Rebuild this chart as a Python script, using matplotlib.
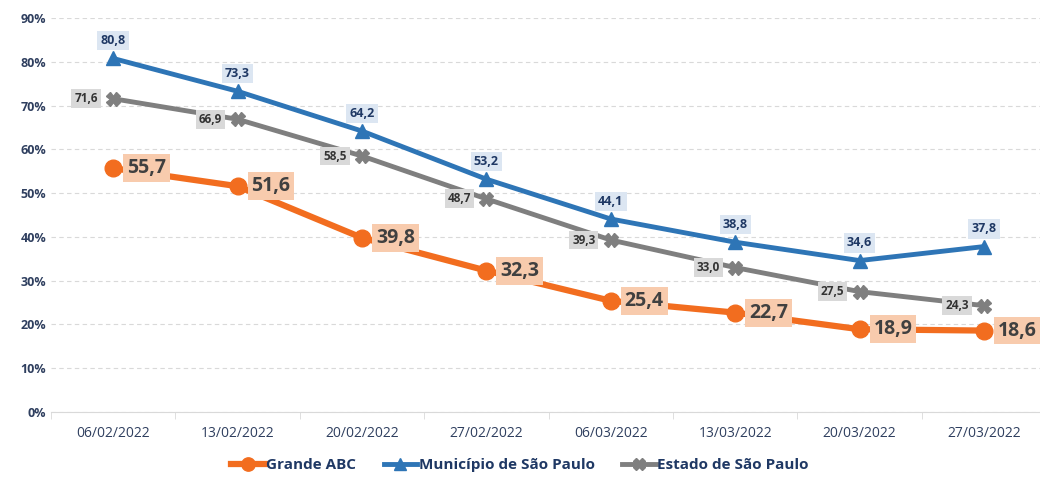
import numpy as np
import matplotlib.pyplot as plt
from matplotlib.ticker import FuncFormatter

plt.rcParams['font.family'] = ['Open Sans', 'DejaVu Sans']

datas = ["06/02/2022", "13/02/2022", "20/02/2022", "27/02/2022",
         "06/03/2022", "13/03/2022", "20/03/2022", "27/03/2022"]
abc = [55.7, 51.6, 39.8, 32.3, 25.4, 22.7, 18.9, 18.6]
municipio = [80.8, 73.3, 64.2, 53.2, 44.1, 38.8, 34.6, 37.8]
estado = [71.6, 66.9, 58.5, 48.7, 39.3, 33.0, 27.5, 24.3]

c_abc = "#F26D1F"
c_mun = "#2E75B6"
c_est = "#7F7F7F"
c_txt = "#2F3F5F"

def fmt(v):
    return ("%.1f" % v).replace(".", ",")

fig = plt.figure(figsize=(10.4, 4.79), dpi=100)
ax = fig.add_axes([0.049, 0.14, 0.951, 0.822])
x = np.arange(len(datas))

ax.plot(x, estado, color=c_est, lw=3.5, marker="X", ms=10, mec=c_est, label="Estado de São Paulo", zorder=3)
ax.plot(x, municipio, color=c_mun, lw=3.5, marker="^", ms=10, label="Município de São Paulo", zorder=4)
ax.plot(x, abc, color=c_abc, lw=4.5, marker="o", ms=12, label="Grande ABC", zorder=5)

for i in range(len(x)):
    ax.annotate(fmt(municipio[i]), (x[i], municipio[i]), xytext=(0, 8), textcoords="offset points",
                ha="center", va="bottom", fontsize=9, fontweight="bold", color="#1F3864",
                bbox=dict(boxstyle="square,pad=0.25", fc="#DCE6F2", ec="none"), zorder=6)
    ax.annotate(fmt(estado[i]), (x[i], estado[i]), xytext=(-11, 0), textcoords="offset points",
                ha="right", va="center", fontsize=8.5, fontweight="bold", color="#333333",
                bbox=dict(boxstyle="square,pad=0.25", fc="#D9D9D9", ec="none"), zorder=6)
    ax.annotate(fmt(abc[i]), (x[i], abc[i]), xytext=(10, 0), textcoords="offset points",
                ha="left", va="center", fontsize=14, fontweight="bold", color="#404040",
                bbox=dict(boxstyle="square,pad=0.2", fc="#F8CBAD", ec="none"), zorder=6)

ax.set_ylim(0, 90)
ax.set_yticks(np.arange(0, 91, 10))
ax.yaxis.set_major_formatter(FuncFormatter(lambda v, p: "%d%%" % v))
ax.set_xlim(-0.5, 7.45)
ax.set_xticks(x)
ax.set_xticklabels(datas)
ax.set_xticks(np.arange(-0.5, 7.5, 1), minor=True)
ax.tick_params(axis="x", which="major", length=0, pad=10, labelsize=10, labelcolor=c_txt)
ax.tick_params(axis="x", which="minor", length=5, color="#D9D9D9")
ax.tick_params(axis="y", length=0, labelsize=9, labelcolor=c_txt)
for lab in ax.get_yticklabels():
    lab.set_fontweight("bold")

ax.grid(axis="y", ls=(0, (4, 3)), color="#D9D9D9", lw=0.8)
ax.set_axisbelow(True)
for s in ["top", "right", "left"]:
    ax.spines[s].set_visible(False)
ax.spines["bottom"].set_color("#D9D9D9")

h, l = ax.get_legend_handles_labels()
leg = fig.legend(h[::-1], l[::-1], loc="lower center", bbox_to_anchor=(0.5, -0.015), ncol=3,
                 frameon=False, handlelength=2.2, handletextpad=0.1, columnspacing=1.8,
                 markerscale=0.8, prop={"size": 11, "weight": "bold"})
for t in leg.get_texts():
    t.set_color("#1F3864")

fig.savefig("out.png", dpi=100)
